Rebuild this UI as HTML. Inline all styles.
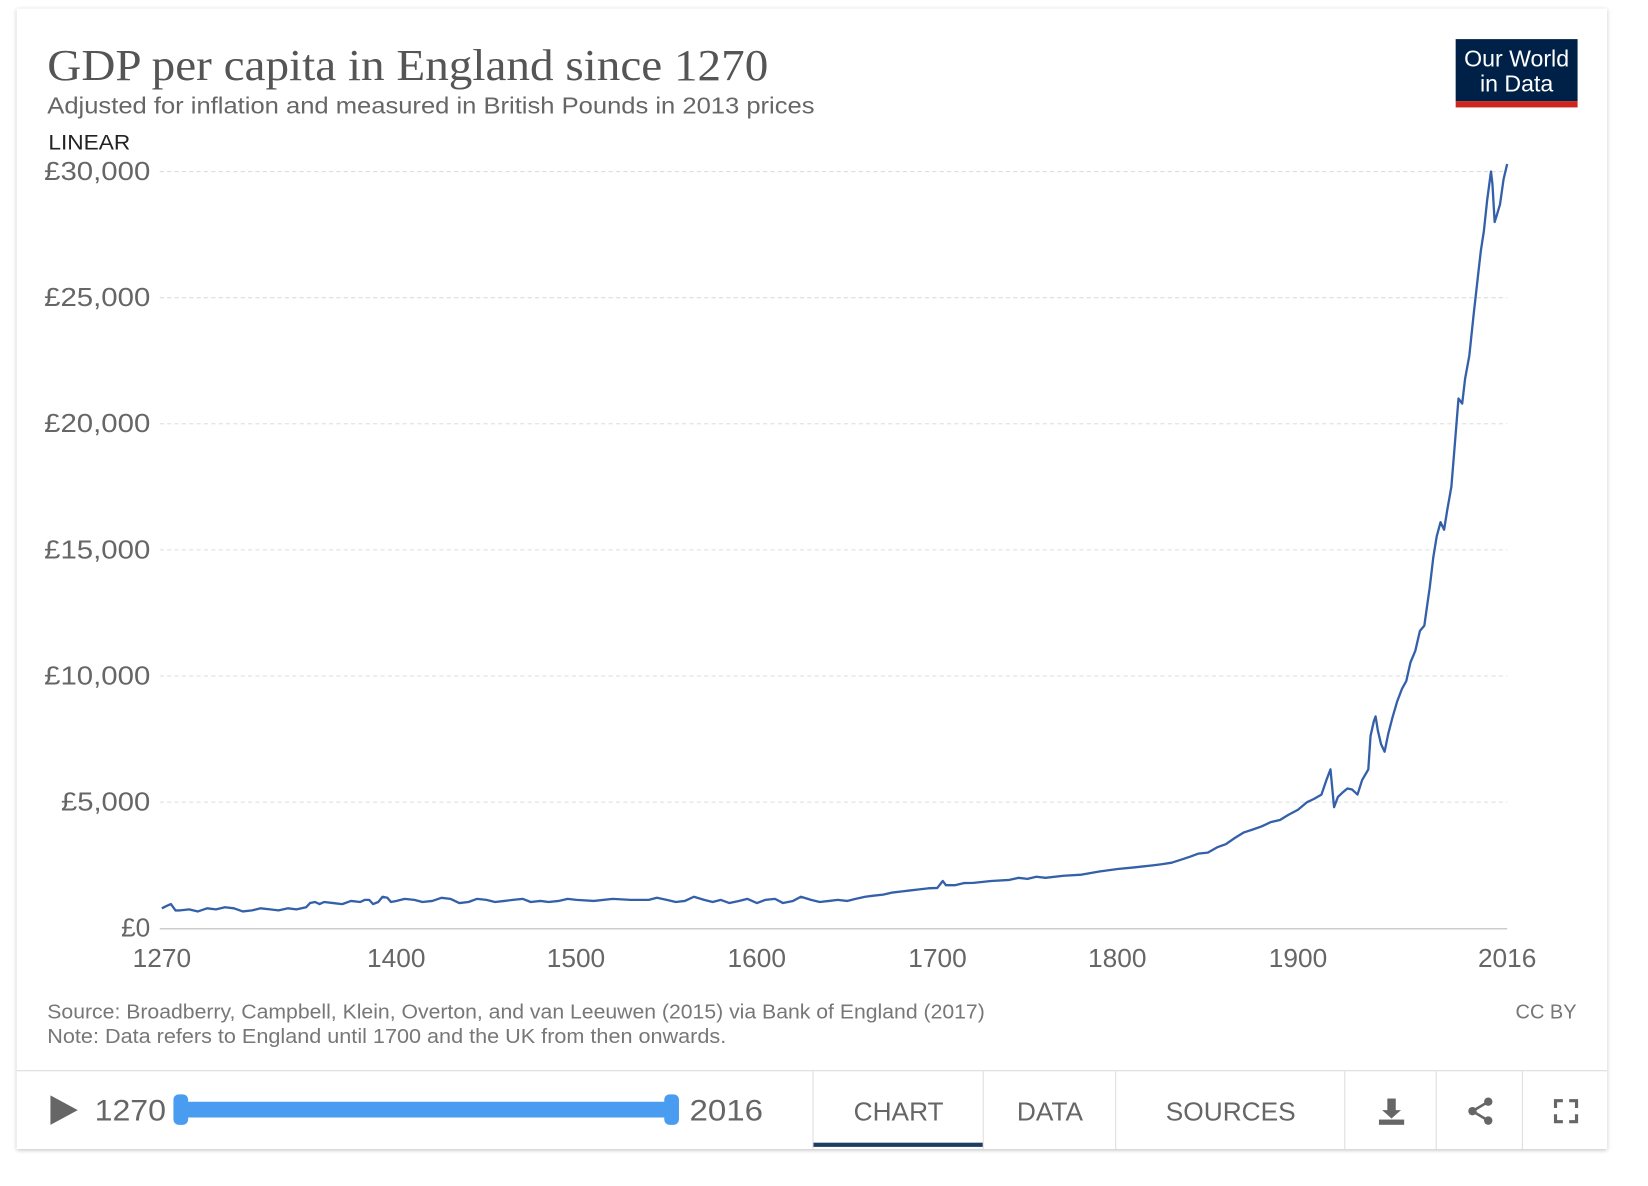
<!DOCTYPE html>
<html><head><meta charset="utf-8"><style>
html,body{margin:0;padding:0;background:#fff;}
svg{display:block}
text{font-family:"Liberation Sans",sans-serif;}
</style></head><body>
<svg width="1648" height="1186" viewBox="0 0 1568 1128" xmlns="http://www.w3.org/2000/svg">
<defs><filter id="sh" x="-5%" y="-5%" width="110%" height="110%"><feDropShadow dx="0" dy="1" stdDeviation="2" flood-color="#000" flood-opacity="0.25"/></filter></defs>
<rect x="16" y="8" width="1513" height="1085" fill="#fff" filter="url(#sh)"/>
<text x="45" y="76" font-size="42" fill="#555" textLength="686" lengthAdjust="spacingAndGlyphs" style="font-family:'Liberation Serif',serif">GDP per capita in England since 1270</text>
<text x="45" y="108" font-size="22" fill="#666" textLength="730" lengthAdjust="spacingAndGlyphs">Adjusted for inflation and measured in British Pounds in 2013 prices</text>
<text x="46" y="142" font-size="20" fill="#222" textLength="78" lengthAdjust="spacingAndGlyphs">LINEAR</text>
<rect x="1385" y="37" width="116" height="59" fill="#002147"/>
<rect x="1385" y="96" width="116" height="6" fill="#ce261e"/>
<text x="1443" y="63" font-size="22" fill="#fff" text-anchor="middle">Our World</text>
<text x="1443" y="87" font-size="22" fill="#fff" text-anchor="middle">in Data</text>
<g stroke="#ddd" stroke-dasharray="4,3" stroke-width="1">
<line x1="152" y1="163" x2="1434" y2="163"/><line x1="152" y1="283" x2="1434" y2="283"/>
<line x1="152" y1="403" x2="1434" y2="403"/><line x1="152" y1="523" x2="1434" y2="523"/>
<line x1="152" y1="643" x2="1434" y2="643"/><line x1="152" y1="763" x2="1434" y2="763"/>
</g>
<line x1="152" y1="883.5" x2="1434" y2="883.5" stroke="#bbb"/>
<g font-size="25" fill="#666" text-anchor="end" style="font-family:'Liberation Serif',serif">
<text x="143" y="171" textLength="101" lengthAdjust="spacingAndGlyphs">£30,000</text><text x="143" y="291" textLength="101" lengthAdjust="spacingAndGlyphs">£25,000</text><text x="143" y="411" textLength="101" lengthAdjust="spacingAndGlyphs">£20,000</text>
<text x="143" y="531" textLength="101" lengthAdjust="spacingAndGlyphs">£15,000</text><text x="143" y="651" textLength="101" lengthAdjust="spacingAndGlyphs">£10,000</text><text x="143" y="771" textLength="85" lengthAdjust="spacingAndGlyphs">£5,000</text><text x="143" y="891">£0</text>
</g>
<g font-size="25" fill="#666" text-anchor="middle">
<text x="154" y="920">1270</text><text x="377" y="920">1400</text><text x="548" y="920">1500</text><text x="720" y="920">1600</text>
<text x="892" y="920">1700</text><text x="1063" y="920">1800</text><text x="1235" y="920">1900</text><text x="1434" y="920">2016</text>
</g>
<polyline fill="none" stroke="#3360a9" stroke-width="2.2" stroke-linejoin="round" points="154,864 158,862 162.6,860 167,866 171.2,866 180,865 188.3,867 197,864 205.5,865 214,863 222.6,864 231,867 239.8,866 248,864 257,865 265,866 274.1,864 282,865 291.3,863 295,859 299.8,858 304,860 308.4,858 317,859 325.6,860 334,857 342.7,858 347,856 351.3,856 355,860 359.9,858 364,853 368.5,854 372,858 377,857 385,855 394.2,856 402,858 411.4,857 420,854 428.5,855 437,859 445.7,858 454,855 462.8,856 471,858 480,857 488,856 497.2,855 505,858 514.3,857 522,858 531.5,857 540,855 548.6,856 565,857 583,855 600,856 617.3,856 625,854 634.4,856 643,858 651.6,857 656,855 660.2,853 670,856 678,858 685.9,856 694,859 703,857 711,855 720.2,859 728,856 737.4,855 745,859 754.5,857 762,853 771.7,856 780,858 788.8,857 797,856 806,857 814,855 823.2,853 831,852 840.3,851 849,849 857.5,848 866,847 874.6,846 883,845 891.8,844.6 897,838 900,842 909,842 917,840 926.1,839.8 943,838 960.4,837 969,835 977.6,836 986,834 994.7,835 1012,833 1029,832 1046,829 1063.4,826.6 1080,825 1097.7,823 1106,822 1114.8,820.6 1123,818 1132,815 1140,812 1149.2,811 1158,806 1166.3,803 1175,797 1183.5,791.8 1192,789 1200.6,786 1209,782 1217.8,780 1226,775 1235,770.2 1243.6,763 1250,760 1257.3,755.8 1262,742 1265.9,731.8 1269.3,767.8 1273,758 1277.9,753.4 1282,750 1286.5,751 1291.6,755.8 1296,742 1301.9,731.8 1304,700 1307.1,686.2 1308.8,681.4 1311,695 1314,707.8 1317.4,715 1320.8,698.2 1325,682 1329.4,667 1334,655 1338,647.8 1342,630 1346.6,619 1351,600 1355.2,595 1358,575 1360.3,559 1363.7,530.2 1367,510 1370.6,496.6 1374,503.8 1377,485 1380.9,463 1384,425 1387.7,379 1391.2,383.8 1394,360 1398,338.2 1402,300 1406.6,259 1409,238 1411.8,220 1415,190 1418.6,163 1420,175 1422.1,211 1424,205 1427.2,194.2 1430.6,170.2 1434,155.8"/>
<text x="45" y="969" font-size="19" fill="#777" textLength="892" lengthAdjust="spacingAndGlyphs">Source: Broadberry, Campbell, Klein, Overton, and van Leeuwen (2015) via Bank of England (2017)</text>
<text x="45" y="992" font-size="19" fill="#777" textLength="646" lengthAdjust="spacingAndGlyphs">Note: Data refers to England until 1700 and the UK from then onwards.</text>
<text x="1500" y="969" font-size="19" fill="#777" text-anchor="end">CC BY</text>
<line x1="16" y1="1018.5" x2="1529" y2="1018.5" stroke="#ddd"/>
<path d="M48 1042 L74 1056 L48 1070 Z" fill="#666"/>
<text x="90" y="1066" font-size="28" fill="#666" textLength="68" lengthAdjust="spacingAndGlyphs">1270</text>
<rect x="172" y="1048" width="468" height="15" rx="3" fill="#4a9cf0"/>
<rect x="165" y="1041" width="14" height="29" rx="5" fill="#4a9cf0"/>
<rect x="632" y="1041" width="14" height="29" rx="5" fill="#4a9cf0"/>
<text x="656" y="1066" font-size="28" fill="#666" textLength="70" lengthAdjust="spacingAndGlyphs">2016</text>
<g stroke="#ddd"><line x1="773.5" y1="1019" x2="773.5" y2="1093"/><line x1="935.5" y1="1019" x2="935.5" y2="1093"/>
<line x1="1061.5" y1="1019" x2="1061.5" y2="1093"/><line x1="1279.5" y1="1019" x2="1279.5" y2="1093"/>
<line x1="1366.5" y1="1019" x2="1366.5" y2="1093"/><line x1="1448.5" y1="1019" x2="1448.5" y2="1093"/></g>
<rect x="774" y="1087" width="161" height="4" fill="#1d3d63"/>
<g font-size="25" fill="#666" text-anchor="middle">
<text x="855" y="1066">CHART</text><text x="999" y="1066">DATA</text><text x="1171" y="1066">SOURCES</text></g>
<g fill="#666"><rect x="1320" y="1045" width="8" height="12"/><path d="M1315 1056 L1333 1056 L1324 1064 Z"/><rect x="1312" y="1065" width="24" height="5"/>
<circle cx="1416" cy="1048" r="4"/><circle cx="1416" cy="1066" r="4"/><circle cx="1401" cy="1057" r="4"/>
<path d="M1416 1048 L1401 1057 L1416 1066" stroke="#666" stroke-width="2.5" fill="none"/></g>
<path d="M1480 1054 V1047 H1487 M1493 1047 H1500 V1054 M1500 1060 V1067 H1493 M1487 1067 H1480 V1060" stroke="#666" stroke-width="3" fill="none"/>
</svg>
</body></html>
